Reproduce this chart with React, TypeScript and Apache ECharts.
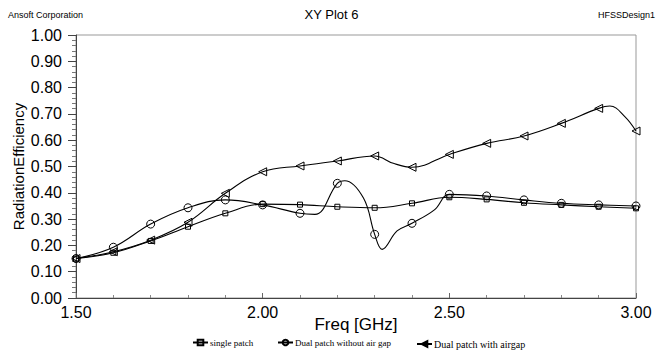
import React, { useEffect, useRef } from "react";
import * as echarts from "echarts";

// ---- data ----
const singleFreq = [1.5, 1.6, 1.7, 1.8, 1.9, 2.0, 2.1, 2.2, 2.3, 2.4, 2.5, 2.6, 2.7, 2.8, 2.9, 3.0];
const singleVals = [0.150, 0.172, 0.217, 0.271, 0.322, 0.357, 0.355, 0.347, 0.343, 0.360, 0.383, 0.375, 0.362, 0.354, 0.347, 0.341];

const noGapFreq = [1.5, 1.6, 1.7, 1.8, 1.9, 2.0, 2.1, 2.14, 2.2, 2.22, 2.27, 2.3, 2.32, 2.36, 2.4, 2.46, 2.5, 2.6, 2.7, 2.8, 2.9, 3.0];
const noGapVals = [0.150, 0.193, 0.281, 0.343, 0.373, 0.354, 0.322, 0.318, 0.436, 0.446, 0.380, 0.242, 0.185, 0.255, 0.284, 0.335, 0.394, 0.388, 0.373, 0.360, 0.354, 0.350];

const airGapFreq = [1.5, 1.6, 1.7, 1.8, 1.9, 2.0, 2.1, 2.2, 2.3, 2.35, 2.4, 2.5, 2.6, 2.7, 2.8, 2.9, 2.93, 2.97, 3.0];
const airGapVals = [0.150, 0.176, 0.220, 0.288, 0.398, 0.480, 0.502, 0.521, 0.540, 0.512, 0.497, 0.546, 0.588, 0.616, 0.664, 0.721, 0.730, 0.690, 0.635];

const yTicks = ["0.00", "0.10", "0.20", "0.30", "0.40", "0.50", "0.60", "0.70", "0.80", "0.90", "1.00"];
const xTicks = ["1.50", "2.00", "2.50", "3.00"];

const seriesNames = ["single patch", "Dual patch without air gap", "Dual patch with airgap"];

const TRI_LEFT = "path://M10,0 L0,5 L10,10 Z";

function build(freq: number[], vals: number[]) {
  return freq.map((f, i) => {
    const isMarker = Math.abs(f * 10 - Math.round(f * 10)) < 1e-6;
    return isMarker ? { value: [f, vals[i]] } : { value: [f, vals[i]], symbol: "none" };
  });
}

export default function App() {
  const ref = useRef<HTMLDivElement>(null);
  useEffect(() => {
    if (!ref.current) return;
    const chart = echarts.init(ref.current, null, { renderer: "svg" });
    const mk = (name: string, freq: number[], vals: number[], symbol: string, size: number) => ({
      name,
      type: "line",
      smooth: 0.4,
      data: build(freq, vals),
      symbol,
      symbolSize: size,
      showAllSymbol: true,
      lineStyle: { color: "#000", width: 1.1 },
      itemStyle: { color: "rgba(255,255,255,0)", borderColor: "#000", borderWidth: 1 },
      emphasis: { disabled: true },
    });
    const font = "Arial, Liberation Sans";
    const legendBase = {
      orient: "horizontal",
      itemWidth: 15,
      itemHeight: 7,
      itemGap: 2,
      padding: 0,
      textStyle: { fontFamily: "Liberation Serif", fontSize: 9, color: "#000", padding: [0, 0, 0, -3] },
    };
    chart.setOption({
      animation: false,
      backgroundColor: "#fff",
      title: [
        { text: "XY Plot 6", left: "center", top: 8, padding: 0, textStyle: { fontFamily: font, fontSize: 13, fontWeight: "normal", color: "#000" } },
        { text: "Ansoft Corporation", left: 8, top: 10, padding: 0, textStyle: { fontFamily: font, fontSize: 9, fontWeight: "normal", color: "#000" } },
        { text: "HFSSDesign1", right: 8, top: 10, padding: 0, textStyle: { fontFamily: font, fontSize: 9, fontWeight: "normal", color: "#000" } },
      ],
      legend: [
        { ...legendBase, data: [seriesNames[0]], left: 192, top: 338 },
        { ...legendBase, data: [seriesNames[1]], left: 277, top: 338 },
        { ...legendBase, data: [seriesNames[2]], left: 416, top: 339, textStyle: { ...legendBase.textStyle, fontSize: 10 } },
      ],
      grid: {
        left: 76, right: 27, top: 35, bottom: 52,
        containLabel: false,
        outerBoundsMode: "none",
        show: true, borderColor: "#999", borderWidth: 1, backgroundColor: "transparent",
      },
      xAxis: {
        type: "value",
        min: 1.5,
        max: 3.0,
        interval: 0.5,
        name: "Freq [GHz]",
        nameLocation: "middle",
        nameGap: 18,
        nameMoveOverlap: false,
        nameTextStyle: { fontFamily: font, fontSize: 17, color: "#000", verticalAlign: "top" },
        axisLine: { lineStyle: { color: "#444", width: 1 } },
        axisTick: { inside: true, length: 5, lineStyle: { color: "#666" } },
        minorTick: { show: true, splitNumber: 5, length: 3, lineStyle: { color: "#888" } },
        splitLine: { show: false },
        axisLabel: {
          fontFamily: font,
          fontSize: 16,
          color: "#000",
          margin: 6,
          formatter: (v: number) => xTicks.find((t) => Math.abs(parseFloat(t) - v) < 1e-6) ?? "",
        },
      },
      yAxis: {
        type: "value",
        min: 0,
        max: 1,
        interval: 0.1,
        name: "RadiationEfficiency",
        nameLocation: "middle",
        nameGap: 50,
        nameMoveOverlap: false,
        nameRotate: 90,
        nameTextStyle: { fontFamily: font, fontSize: 15, color: "#000" },
        axisLine: { show: true, lineStyle: { color: "#444", width: 1 } },
        axisTick: { show: true, inside: false, length: 8, lineStyle: { color: "#444" } },
        minorTick: { show: true, splitNumber: 5, length: 4, lineStyle: { color: "#777" } },
        splitLine: { show: false },
        axisLabel: {
          fontFamily: font,
          fontSize: 16,
          color: "#000",
          margin: 14,
          formatter: (v: number) => yTicks.find((t) => Math.abs(parseFloat(t) - v) < 1e-6) ?? "",
        },
      },
      series: [
        mk(seriesNames[0], singleFreq, singleVals, "rect", 5),
        mk(seriesNames[1], noGapFreq, noGapVals, "circle", 8),
        mk(seriesNames[2], airGapFreq, airGapVals, TRI_LEFT, 8),
      ],
    });
    return () => chart.dispose();
  }, []);
  return <div ref={ref} style={{ width: 663, height: 350, position: "absolute", left: 0, top: 0 }} />;
}
